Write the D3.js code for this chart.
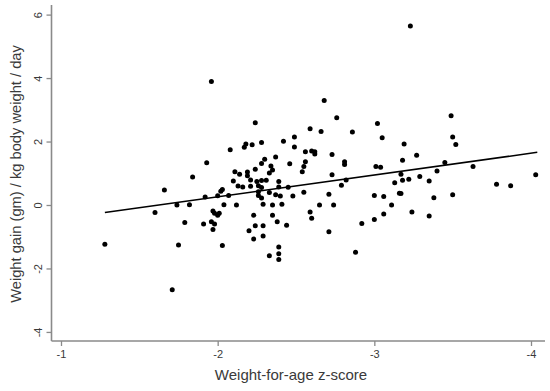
<!DOCTYPE html>
<html>
<head>
<meta charset="utf-8">
<script src="https://cdn.jsdelivr.net/npm/d3@7"></script>
<style>
  html, body { margin: 0; padding: 0; background: #fff; }
  svg { display: block; }
</style>
</head>
<body>
<svg id="chart" width="550" height="391"></svg>
<script>
// Weight-for-age z-score (x) and weight gain (y)
const zScore = [
  -1.28, -1.60, -1.66, -1.71, -1.74, -1.75, -1.79, -1.82, -1.84, -1.91,
  -1.92, -1.93, -1.96, -1.96, -1.97, -1.97, -1.98, -1.98, -2.00, -2.01,
  -2.00, -2.02, -2.03, -2.03, -2.04, -2.07, -2.08, -2.10, -2.11, -2.12,
  -2.13, -2.14, -2.16, -2.17, -2.18, -2.19, -2.19, -2.20, -2.21, -2.22,
  -2.21, -2.23, -2.24, -2.23, -2.24, -2.24, -2.25, -2.26, -2.26, -2.26,
  -2.28, -2.28, -2.28, -2.28, -2.31, -2.28, -2.29, -2.29, -2.29, -2.30,
  -2.33, -2.34, -2.35, -2.33, -2.33, -2.35, -2.35, -2.37, -2.37, -2.38,
  -2.39, -2.39, -2.39, -2.39, -2.39, -2.40, -2.41, -2.42, -2.44, -2.45,
  -2.46, -2.48, -2.49, -2.49, -2.54, -2.55, -2.56, -2.55, -2.56, -2.59,
  -2.59, -2.60, -2.60, -2.62, -2.62, -2.65, -2.66, -2.68, -2.71, -2.71,
  -2.73, -2.73, -2.74, -2.76, -2.79, -2.81, -2.81, -2.82, -2.86, -2.88,
  -2.92, -3.00, -3.00, -3.01, -3.02, -3.04, -3.05, -3.06, -3.06, -3.11,
  -3.13, -3.16, -3.17, -3.17, -3.18, -3.18, -3.22, -3.19, -3.23, -3.24,
  -3.27, -3.29, -3.35, -3.35, -3.38, -3.40, -3.45, -3.49, -3.50, -3.52,
  -3.50, -3.63, -3.78, -3.87, -4.03
];
const weightGain = [
  -1.24, -0.24, 0.47, -2.67, 0.00, -1.26, -0.55, 0.01, 0.88, -0.60,
  0.25, 1.33, 3.89, -0.53, -0.77, -0.19, -0.60, -0.26, -0.32, -0.26,
  0.29, 0.43, 0.49, -1.28, 0.01, 0.30, 1.74, 0.76, 1.05, 0.00,
  0.60, 0.97, 0.57, 1.82, 1.92, 1.04, 0.92, -0.81, 0.79, 1.90,
  0.59, -0.32, -0.65, -1.07, 2.59, 1.13, 0.74, 0.61, 0.42, 0.30,
  1.97, 1.31, 0.55, 0.77, 0.78, 0.22, 0.02, -0.65, -0.98, 1.44,
  -1.60, 1.23, 1.10, 1.01, 0.39, 0.00, -0.32, 1.51, 0.32, -0.53,
  -1.32, -1.54, -1.72, 0.74, 0.57, 0.28, 0.02, 2.01, -0.64, 0.56,
  1.30, 0.28, 2.14, 1.83, 1.05, 1.21, 1.36, 0.40, 1.68, 2.40,
  -0.22, -0.42, 1.70, 1.61, 1.68, 0.00, 2.32, 3.29, 0.34, -0.84,
  1.59, 0.95, 0.00, 2.75, 0.62, 1.36, 1.28, 0.79, 2.30, -1.49,
  -0.58, -0.46, 0.30, 1.21, 2.57, 1.19, 2.12, -0.28, 0.27, 0.00,
  0.70, 0.37, 0.36, 0.97, 1.41, 0.78, 0.81, 1.92, 5.64, -0.22,
  1.57, 0.90, 0.76, -0.35, 0.23, 1.07, 1.34, 2.81, 2.14, 1.91,
  0.32, 1.21, 0.65, 0.61, 0.95
];
// Fitted regression line end points
const fitX = [-1.28, -4.04];
const fitY = [-0.24, 1.66];

const xTicks = [-1, -2, -3, -4];
const yTicks = [-4, -2, 0, 2, 4, 6];
const xTitle = "Weight-for-age z-score";
const yTitle = "Weight gain (gm) / kg body weight / day";

const svg = d3.select("#chart");
const axisColor = "#8a8a8a";
const textColor = "#3a3a3a";

const x = d3.scaleLinear().domain([-1, -4]).range([61, 531]);
const y = d3.scaleLinear().domain([0, 6]).range([205, 14.6]);

const plotLeft = 51.5, plotBottom = 341, plotTop = 5, plotRight = 545;

// axis lines
svg.append("line").attr("x1", plotLeft).attr("x2", plotLeft)
  .attr("y1", plotTop).attr("y2", plotBottom)
  .attr("stroke", axisColor).attr("stroke-width", 1.6);
svg.append("line").attr("x1", plotLeft).attr("x2", plotRight)
  .attr("y1", plotBottom).attr("y2", plotBottom)
  .attr("stroke", axisColor).attr("stroke-width", 1.6);

// x axis
const xAxis = d3.axisBottom(x).tickValues(xTicks).tickSize(5).tickPadding(4)
  .tickFormat(d3.format("d"));
const gx = svg.append("g").attr("transform", `translate(0,${plotBottom})`).call(xAxis);
gx.select(".domain").remove();
gx.selectAll(".tick line").attr("stroke", axisColor).attr("stroke-width", 1.3);
gx.selectAll(".tick text").attr("fill", textColor)
  .style("font-family", "Arial, 'Liberation Sans', sans-serif").style("font-size", "11px")
  .text(d => d < 0 ? "-" + Math.abs(d) : d);

// y axis
const yAxis = d3.axisLeft(y).tickValues(yTicks).tickSize(5).tickPadding(4);
const gy = svg.append("g").attr("transform", `translate(${plotLeft},0)`).call(yAxis);
gy.select(".domain").remove();
gy.selectAll(".tick line").attr("stroke", axisColor).attr("stroke-width", 1.3);
gy.selectAll(".tick text").attr("fill", textColor)
  .style("font-family", "Arial, 'Liberation Sans', sans-serif").style("font-size", "11px")
  .attr("x", null).attr("dy", null)
  .attr("text-anchor", "middle")
  .attr("transform", "translate(-13,0) rotate(-90)")
  .attr("dy", "0.32em")
  .text(d => d < 0 ? "-" + Math.abs(d) : d);

// regression line
svg.append("line")
  .attr("x1", x(fitX[0])).attr("y1", y(fitY[0]))
  .attr("x2", x(fitX[1])).attr("y2", y(fitY[1]))
  .attr("stroke", "#000").attr("stroke-width", 1.5);

// points
const pts = zScore.map((z, i) => ({ z, g: weightGain[i] }));
svg.append("g").selectAll("circle").data(pts).join("circle")
  .attr("cx", d => x(d.z)).attr("cy", d => y(d.g))
  .attr("r", 2.5).attr("fill", "#000");

// titles
svg.append("text").attr("x", 291).attr("y", 380)
  .attr("text-anchor", "middle").attr("fill", textColor)
  .style("font-family", "Arial, 'Liberation Sans', sans-serif").style("font-size", "15px")
  .text(xTitle);
svg.append("text")
  .attr("transform", `translate(21,174) rotate(-90)`)
  .attr("text-anchor", "middle").attr("fill", textColor)
  .style("font-family", "Arial, 'Liberation Sans', sans-serif").style("font-size", "14.7px")
  .text(yTitle);
</script>
</body>
</html>
